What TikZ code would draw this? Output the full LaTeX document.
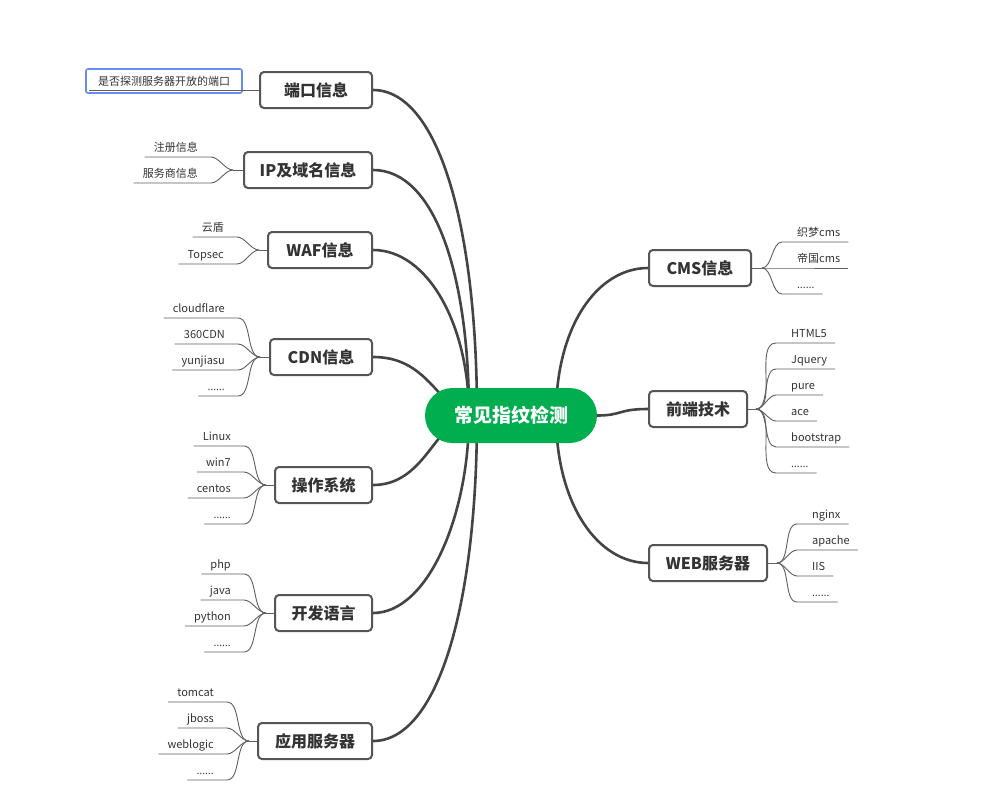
\documentclass[tikz,border=0pt]{standalone}
\usepackage{fontspec}
\setmainfont{Noto Sans CJK SC}
\newfontfamily\latinfont{Open Sans}
\usetikzlibrary{calc,backgrounds}
\pgfdeclarelayer{paper}
\pgfsetlayers{paper,background,main}
\definecolor{hubgreen}{RGB}{0,173,79}
\definecolor{linegray}{RGB}{68,68,68}
\definecolor{boxgray}{RGB}{85,85,85}
\definecolor{subgray}{RGB}{95,95,95}
\definecolor{txtgray}{RGB}{51,51,51}
\definecolor{selblue}{RGB}{105,140,240}
\newcommand\dotsx{{\latinfont ……}}
\tikzset{
 topic/.style={draw=boxgray, line width=2pt, rounded corners=4pt, fill=white, minimum height=36pt, inner sep=0pt, text=txtgray, font=\fontsize{16}{18}\selectfont\bfseries},
 leaf/.style={inner sep=0pt, text=txtgray, font=\fontsize{11}{13}\selectfont},
 mainline/.style={draw=linegray, line width=2.6pt},
 subline/.style={draw=subgray, line width=0.9pt},
}
% left leaf: name, text, y, junction x, junction name
\newcommand\leafL[5]{%
 \node[leaf, anchor=base east] (#1) at (#4-35, #3-6) {#2};
 \draw[subline] ($(#1.west |- 0,#3)+(-9,0)$) -- (#4-22,#3) to[out=0,in=180,looseness=0.8] (#5);
}
% right leaf: name, text, y, junction x, junction name
\newcommand\leafR[5]{%
 \node[leaf, anchor=base west] (#1) at (#4+35, #3-6) {#2};
 \draw[subline] (#5) to[out=0,in=180,looseness=0.8] (#4+20,#3) -- ($(#1.east |- 0,#3)+(8,0)$);
}
\begin{document}
\begin{tikzpicture}[x=1pt,y=-1pt]
\begin{pgfonlayer}{paper}
\fill[white] (0,0) rectangle (994,788);
\end{pgfonlayer}
\useasboundingbox (0,0) rectangle (994,788);

% hub
\node[fill=hubgreen, rounded corners=27.5pt, minimum width=172pt, minimum height=55pt, inner sep=0pt, text=white, font=\fontsize{19}{22}\selectfont\bfseries] (hub) at (511,415.5) {常见指纹检测};
\coordinate (hubLo) at (477,415);
\coordinate (hubLi) at (469,415);
\coordinate (hubCa) at (448,402);
\coordinate (hubCb) at (448,428);
\coordinate (hubR) at (556,415);

% topics
\node[topic, minimum width=112pt] (port) at (316,90) {端口信息};
\node[topic, minimum width=128pt] (ipdom) at (308,170) {IP及域名信息};
\node[topic, minimum width=104pt] (waf) at (320,250) {WAF信息};
\node[topic, minimum width=102pt] (cdn) at (321,357) {CDN信息};
\node[topic, minimum width=97pt] (os) at (323.5,485) {操作系统};
\node[topic, minimum width=97pt] (lang) at (323.5,613) {开发语言};
\node[topic, minimum width=114pt] (app) at (315,741) {应用服务器};
\node[topic, minimum width=102pt] (cms) at (700,268) {CMS信息};
\node[topic, minimum width=98pt] (fe) at (698,409) {前端技术};
\node[topic, minimum width=118pt] (web) at (708,563) {WEB服务器};

% main connectors
\begin{scope}[on background layer]
\draw[mainline] (port.east) .. controls +(65,0) and +(0,-190) .. (hubLo);
\draw[mainline] (ipdom.east) .. controls +(62,0) and +(0,-140) .. (hubLi);
\draw[mainline] (waf.east) .. controls +(55,0) and +(0,-90) .. (hubLi);
\draw[mainline] (cdn.east) .. controls +(40,0) and +(-20,-20) .. (hubCa);
\draw[mainline] (os.east) .. controls +(40,0) and +(-20,20) .. (hubCb);
\draw[mainline] (lang.east) .. controls +(55,0) and +(0,100) .. (hubLi);
\draw[mainline] (app.east) .. controls +(65,0) and +(0,190) .. (hubLo);
\draw[mainline] (cms.west) .. controls +(-50,0) and +(0,-90) .. (hubR);
\draw[mainline] (fe.west) .. controls +(-30,0) and +(25,0) .. (hub.east);
\draw[mainline] (web.west) .. controls +(-50,0) and +(0,90) .. (hubR);
\end{scope}

% port leaf (selected)
\node[leaf, draw=selblue, line width=1.6pt, rounded corners=2pt, minimum width=156pt, minimum height=24pt] (portleaf) at (164,81) {是否探测服务器开放的端口};
\draw[subline] (port.west) -- ($(portleaf.west |- port.west)+(4,0)$);

% junctions
\coordinate (jip) at (233,170);
\coordinate (jwaf) at (259,250);
\coordinate (jcdn) at (260,357);
\coordinate (jos) at (266,485);
\coordinate (jlang) at (266,613);
\coordinate (japp) at (249,741);
\coordinate (jcms) at (762,268);
\coordinate (jfe) at (756,409);
\coordinate (jweb) at (777,563);
\draw[subline] (ipdom.west) -- (jip);
\draw[subline] (waf.west) -- (jwaf);
\draw[subline] (cdn.west) -- (jcdn);
\draw[subline] (os.west) -- (jos);
\draw[subline] (lang.west) -- (jlang);
\draw[subline] (app.west) -- (japp);
\draw[subline] (cms.east) -- (jcms);
\draw[subline] (fe.east) -- (jfe);
\draw[subline] (web.east) -- (jweb);

% left leaves
\leafL{ip1}{注册信息}{157}{233}{jip}
\leafL{ip2}{服务商信息}{183}{233}{jip}
\leafL{waf1}{云盾}{237}{259}{jwaf}
\leafL{waf2}{Topsec}{264}{259}{jwaf}
\leafL{cdn1}{cloudflare}{318}{260}{jcdn}
\leafL{cdn2}{360CDN}{344}{260}{jcdn}
\leafL{cdn3}{yunjiasu}{370}{260}{jcdn}
\leafL{cdn4}{\dotsx}{396}{260}{jcdn}
\leafL{os1}{Linux}{446}{266}{jos}
\leafL{os2}{win7}{472}{266}{jos}
\leafL{os3}{centos}{498}{266}{jos}
\leafL{os4}{\dotsx}{524}{266}{jos}
\leafL{lang1}{php}{574}{266}{jlang}
\leafL{lang2}{java}{600}{266}{jlang}
\leafL{lang3}{python}{626}{266}{jlang}
\leafL{lang4}{\dotsx}{652}{266}{jlang}
\leafL{app1}{tomcat}{702}{249}{japp}
\leafL{app2}{jboss}{728}{249}{japp}
\leafL{app3}{weblogic}{754}{249}{japp}
\leafL{app4}{\dotsx}{780}{249}{japp}

% right leaves
\leafR{cms1}{织梦cms}{242}{762}{jcms}
\leafR{cms2}{帝国cms}{268}{762}{jcms}
\leafR{cms3}{\dotsx}{294}{762}{jcms}
\leafR{fe1}{HTML5}{343}{756}{jfe}
\leafR{fe2}{Jquery}{369}{756}{jfe}
\leafR{fe3}{pure}{395}{756}{jfe}
\leafR{fe4}{ace}{421}{756}{jfe}
\leafR{fe5}{bootstrap}{447}{756}{jfe}
\leafR{fe6}{\dotsx}{473}{756}{jfe}
\leafR{web1}{nginx}{524}{777}{jweb}
\leafR{web2}{apache}{550}{777}{jweb}
\leafR{web3}{IIS}{576}{777}{jweb}
\leafR{web4}{\dotsx}{602}{777}{jweb}
\end{tikzpicture}
\end{document}
